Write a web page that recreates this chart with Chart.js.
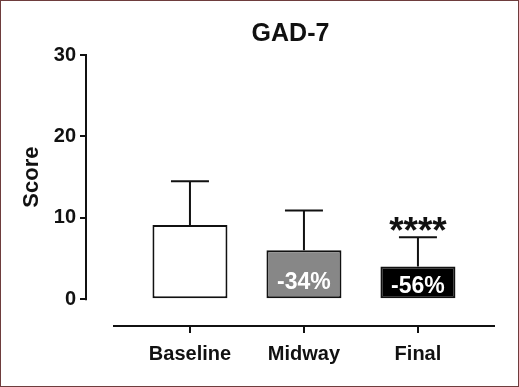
<!DOCTYPE html>
<html>
<head>
<meta charset="utf-8">
<script src="https://cdn.jsdelivr.net/npm/chart.js@4/dist/chart.umd.min.js"></script>
<style>
  html, body { margin: 0; padding: 0; background: #fff; }
  #wrap { width: 519px; height: 387px; box-sizing: border-box; border: 1px solid #6e3d3d; background: #fff; }
  canvas { display: block; }
</style>
</head>
<body>
<div id="wrap"><canvas id="c" width="517" height="385"></canvas></div>
<script>
const categories = ['Baseline', 'Midway', 'Final'];
const meanScores = [9.1, 6.0, 4.0];
const sdScores = [5.4, 4.9, 3.6];
const changeLabels = ['', '-34%', '-56%'];
const significance = ['', '', '****'];
const yTickValues = [0, 10, 20, 30];
const chartTitle = 'GAD-7';
const yAxisTitle = 'Score';

const barFills = ['#ffffff', '#878787', '#000000'];
const ink = '#111111';
const FONT = '"Liberation Sans", Arial, Helvetica, sans-serif';

const decorations = {
  id: 'decorations',
  afterDatasetsDraw(chart) {
    const ctx = chart.ctx;
    const y = chart.scales.y;
    const area = chart.chartArea;
    const meta = chart.getDatasetMeta(0);
    ctx.save();
    ctx.strokeStyle = ink;
    ctx.lineWidth = 2;
    const yTop = y.getPixelForValue(yTickValues[yTickValues.length - 1]);
    const yZero = y.getPixelForValue(0);
    ctx.beginPath();
    ctx.moveTo(area.left, yTop - 1);
    ctx.lineTo(area.left, yZero + 1);
    ctx.stroke();
    ctx.beginPath();
    ctx.moveTo(area.left + 27, area.bottom);
    ctx.lineTo(area.right, area.bottom);
    ctx.stroke();
    meanScores.forEach((m, i) => {
      const bar = meta.data[i];
      const cx = bar.x;
      const top = y.getPixelForValue(m);
      const eTop = y.getPixelForValue(m + sdScores[i]);
      ctx.beginPath();
      ctx.moveTo(cx, top);
      ctx.lineTo(cx, eTop);
      ctx.moveTo(cx - 19, eTop);
      ctx.lineTo(cx + 19, eTop);
      ctx.stroke();
      if (changeLabels[i]) {
        const h = yZero - top;
        ctx.fillStyle = '#ffffff';
        ctx.font = 'bold 23px ' + FONT;
        ctx.textAlign = 'center';
        ctx.textBaseline = 'alphabetic';
        ctx.fillText(changeLabels[i], cx, yZero - 0.2 * h);
      }
      if (significance[i]) {
        ctx.fillStyle = ink;
        ctx.font = 'bold 37px ' + FONT;
        ctx.textAlign = 'center';
        ctx.textBaseline = 'alphabetic';
        ctx.fillText(significance[i], cx, eTop + 6);
      }
    });
    ctx.save();
    ctx.translate(31, (yTop + yZero) / 2);
    ctx.rotate(-Math.PI / 2);
    ctx.fillStyle = ink;
    ctx.font = 'bold 22px ' + FONT;
    ctx.textAlign = 'center';
    ctx.textBaseline = 'middle';
    ctx.fillText(yAxisTitle, 0, 0);
    ctx.restore();
    ctx.restore();
  }
};

new Chart(document.getElementById('c'), {
  type: 'bar',
  data: {
    datasets: [{
      data: meanScores.map((v, i) => ({ x: i + 1, y: v })),
      backgroundColor: barFills,
      borderColor: ink,
      borderWidth: 2,
      borderSkipped: false,
      barPercentage: 0.658,
      categoryPercentage: 1.0
    }]
  },
  options: {
    responsive: false,
    animation: false,
    events: [],
    layout: { padding: { left: 0, right: 23, top: 0, bottom: 0 } },
    plugins: {
      legend: { display: false },
      tooltip: { enabled: false },
      title: {
        display: true,
        text: chartTitle,
        fullSize: false,
        color: ink,
        font: { family: FONT, size: 25, weight: 'bold' },
        padding: { top: 18, bottom: 6 }
      }
    },
    scales: {
      x: {
        type: 'linear',
        offset: false,
        min: 0.088,
        max: 3.676,
        afterBuildTicks(scale) { scale.ticks = categories.map((c, i) => ({ value: i + 1 })); },
        afterFit(scale) { scale.height = 60; },
        border: { display: false },
        grid: { display: true, offset: false, drawOnChartArea: false, drawTicks: true, tickLength: 7, color: ink, lineWidth: 2 },
        ticks: {
          autoSkip: false,
          maxRotation: 0,
          padding: 9,
          color: ink,
          font: { family: FONT, size: 20, weight: 'bold' },
          callback: (v) => categories[Math.round(v) - 1]
        }
      },
      y: {
        min: -3.3,
        max: 30,
        afterBuildTicks(scale) { scale.ticks = yTickValues.map(v => ({ value: v })); },
        afterFit(scale) { scale.width = 85; },
        border: { display: false },
        grid: { display: true, drawOnChartArea: false, drawTicks: true, tickLength: 6, color: ink, lineWidth: 2 },
        ticks: {
          padding: 4,
          color: ink,
          font: { family: FONT, size: 20, weight: 'bold' }
        }
      }
    }
  },
  plugins: [decorations]
});
</script>
</body>
</html>
